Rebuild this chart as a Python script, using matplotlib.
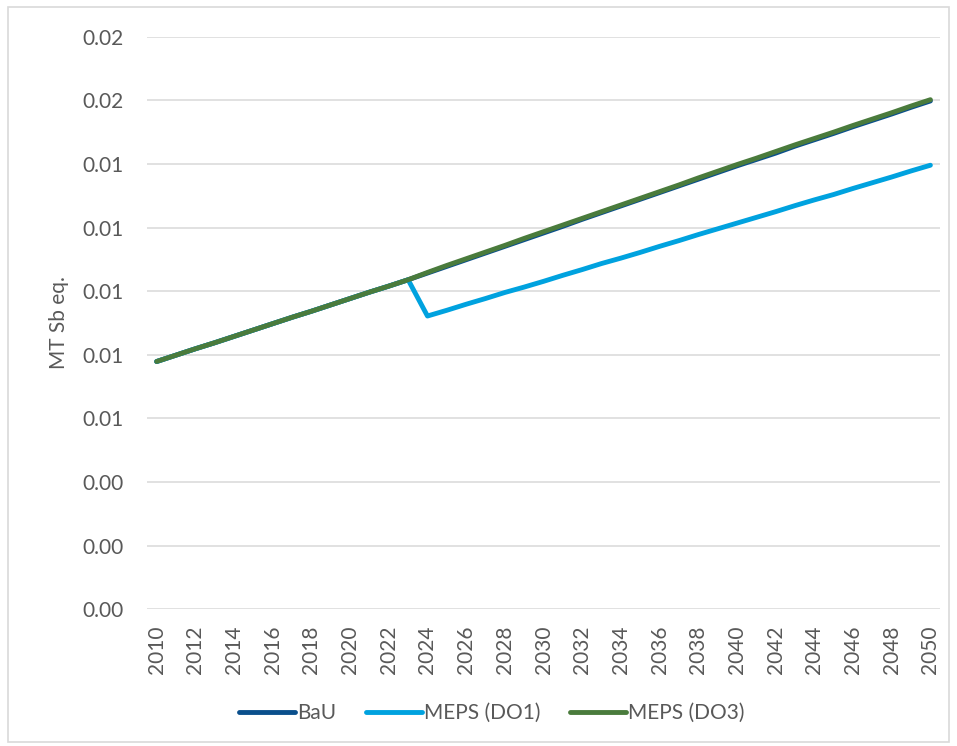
import matplotlib.pyplot as plt
from matplotlib.patches import Rectangle

# years on the category axis
years = list(range(2010, 2051))

# series values (MT Sb eq.)
bau = [0.00779, 0.00799, 0.00819, 0.00838, 0.00858, 0.00878, 0.00898, 0.00918,
       0.00937, 0.00957, 0.00977, 0.00997, 0.01016, 0.01036, 0.01057, 0.01078,
       0.01099, 0.01120, 0.01141, 0.01162, 0.01183, 0.01204, 0.01226, 0.01247,
       0.01268, 0.01289, 0.01310, 0.01331, 0.01352, 0.01373, 0.01394, 0.01414,
       0.01434, 0.01456, 0.01476, 0.01496, 0.01517, 0.01537, 0.01557, 0.01578,
       0.01598]

meps_do1 = [0.00779, 0.00799, 0.00819, 0.00838, 0.00858, 0.00878, 0.00898, 0.00918,
            0.00937, 0.00957, 0.00977, 0.00997, 0.01016, 0.01036, 0.00922, 0.00940,
            0.00959, 0.00977, 0.00996, 0.01013, 0.01031, 0.01050, 0.01068, 0.01087,
            0.01104, 0.01122, 0.01141, 0.01159, 0.01178, 0.01196, 0.01214, 0.01232,
            0.01250, 0.01269, 0.01287, 0.01304, 0.01323, 0.01341, 0.01359, 0.01378,
            0.01396]

meps_do3 = [0.00779, 0.00799, 0.00819, 0.00838, 0.00858, 0.00878, 0.00898, 0.00918,
            0.00937, 0.00957, 0.00977, 0.00997, 0.01016, 0.01036, 0.01059, 0.01081,
            0.01102, 0.01123, 0.01144, 0.01166, 0.01187, 0.01208, 0.01229, 0.01250,
            0.01271, 0.01292, 0.01313, 0.01334, 0.01356, 0.01377, 0.01398, 0.01418,
            0.01439, 0.01460, 0.01480, 0.01500, 0.01521, 0.01541, 0.01561, 0.01582,
            0.01602]

y_ticks = [0.0, 0.002, 0.004, 0.006, 0.008, 0.010, 0.012, 0.014, 0.016, 0.018]

plt.rcParams['font.family'] = ['Lato', 'DejaVu Sans']
grey = '#595959'

fig = plt.figure(figsize=(9.57, 7.46), dpi=100)
ax = fig.add_axes([0.1536, 0.1832, 0.8287, 0.7676])

# chart border
fig.patches.append(Rectangle((0.008, 0.006), 0.984, 0.985, transform=fig.transFigure,
                             fill=False, edgecolor='#d9d9d9', linewidth=1.2))

line_kw = dict(linewidth=3.5, solid_capstyle='round', solid_joinstyle='round')
ax.plot(years, bau, color='#0a4f8c', label='BaU', **line_kw)
ax.plot(years, meps_do1, color='#00a2df', label='MEPS (DO1)', **line_kw)
ax.plot(years, meps_do3, color='#4a7b3c', label='MEPS (DO3)', **line_kw)

ax.set_xlim(2009.5, 2050.5)
ax.set_ylim(0, 0.018)
ax.set_xticks(years[::2])
ax.set_xticklabels([str(y) for y in years[::2]], rotation=90)
ax.set_yticks(y_ticks)
ax.set_yticklabels(['%.2f' % v for v in y_ticks])
ax.tick_params(axis='both', length=0, labelsize=15, labelcolor=grey)
ax.tick_params(axis='x', pad=12)
ax.tick_params(axis='y', pad=17)

ax.grid(axis='y', color='#d9d9d9', linewidth=1.1)
ax.set_axisbelow(True)
for s in ax.spines.values():
    s.set_visible(False)

ax.set_ylabel('MT Sb eq.', fontsize=15, color=grey)
ax.yaxis.set_label_coords(-0.098, 0.5)

fig.legend(loc='center', bbox_to_anchor=(0.514, 0.044), ncol=3, frameon=False,
           fontsize=15, labelcolor=grey, handlelength=2.7, handletextpad=0.1,
           columnspacing=1.4)

fig.savefig('out.png', dpi=100)
